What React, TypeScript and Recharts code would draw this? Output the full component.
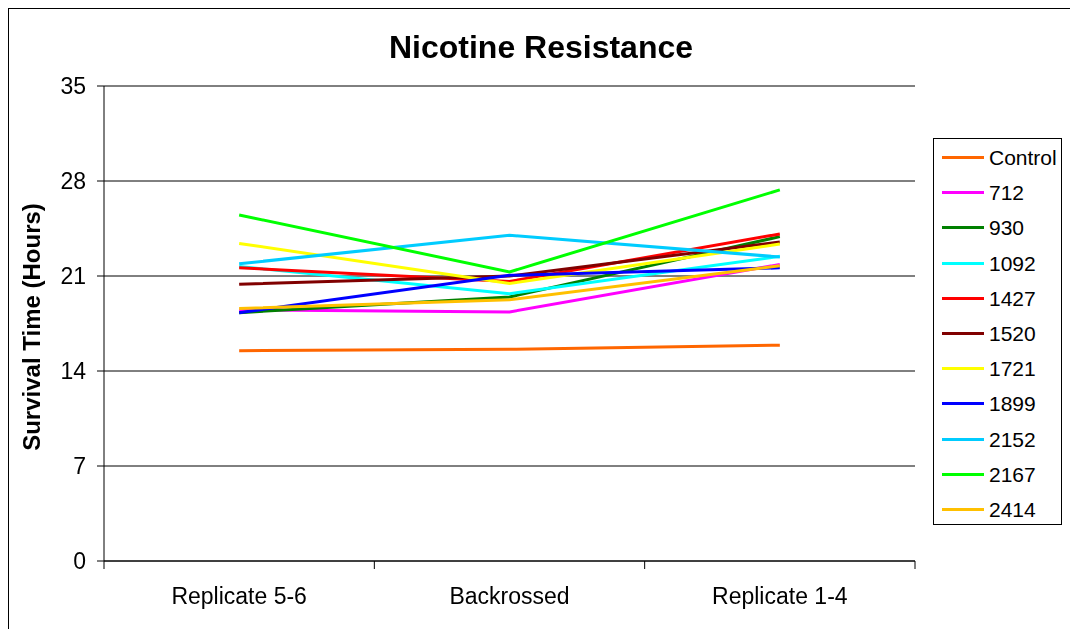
import React from "react";
import {
  LineChart,
  Line,
  XAxis,
  YAxis,
  CartesianGrid,
  Legend,
} from "recharts";

const categories = ["Replicate 5-6", "Backrossed", "Replicate 1-4"];

const control = [15.5, 15.6, 15.9];
const s712 = [18.5, 18.35, 21.85];
const s930 = [18.3, 19.45, 23.9];
const s1092 = [21.7, 19.7, 22.45];
const s1427 = [21.6, 20.6, 24.1];
const s1520 = [20.4, 21.0, 23.5];
const s1721 = [23.4, 20.45, 23.35];
const s1899 = [18.3, 21.05, 21.6];
const s2152 = [21.9, 24.0, 22.4];
const s2167 = [25.5, 21.3, 27.35];
const s2414 = [18.6, 19.25, 21.75];

const yTicks = [0, 7, 14, 21, 28, 35];

const series = [
  { name: "Control", values: control, color: "#FF6600" },
  { name: "712", values: s712, color: "#FF00FF" },
  { name: "930", values: s930, color: "#008000" },
  { name: "1092", values: s1092, color: "#00FFFF" },
  { name: "1427", values: s1427, color: "#FF0000" },
  { name: "1520", values: s1520, color: "#800000" },
  { name: "1721", values: s1721, color: "#FFFF00" },
  { name: "1899", values: s1899, color: "#0000FF" },
  { name: "2152", values: s2152, color: "#00CCFF" },
  { name: "2167", values: s2167, color: "#00FF00" },
  { name: "2414", values: s2414, color: "#FFC000" },
];

const data = categories.map((cat, i) => {
  const row: Record<string, string | number> = { category: cat };
  series.forEach((s) => {
    row[s.name] = s.values[i];
  });
  return row;
});

const FONT = '"Liberation Sans", Arial, sans-serif';
const W = 1054;
const H = 613;
const MARGIN = { top: 78, right: 147, left: 0, bottom: 20 };
const Y_W = 96;
const PLOT_W = W - MARGIN.left - MARGIN.right - Y_W;
const BAND = PLOT_W / categories.length;

function CategoryTick(props: any) {
  const { x, y, payload, index } = props;
  const last = index === categories.length - 1;
  return (
    <g>
      <line x1={x - BAND / 2} x2={x - BAND / 2} y1={y} y2={y + 8} stroke="#000" />
      {last && (
        <line x1={x + BAND / 2} x2={x + BAND / 2} y1={y} y2={y + 8} stroke="#000" />
      )}
      <text x={x} y={y + 43} textAnchor="middle" fontSize={23} fill="#000" fontFamily={FONT}>
        {payload.value}
      </text>
    </g>
  );
}

// keep the legend in series order (recharts sorts by name otherwise)
function LegendBox(props: any) {
  const items = [...(props.payload || [])].sort(
    (a: any, b: any) =>
      series.findIndex((s) => s.name === a.value) - series.findIndex((s) => s.name === b.value)
  );
  return (
    <div
      style={{
        border: "1px solid #000",
        width: 129,
        height: 387,
        boxSizing: "border-box",
        paddingTop: 1,
        paddingLeft: 8,
        background: "#fff",
        fontFamily: FONT,
      }}
    >
      {items.map((it: any) => (
        <div key={it.value} style={{ display: "flex", alignItems: "center", height: 35.2 }}>
          <span style={{ display: "inline-block", width: 42, height: 3, background: it.color }} />
          <span style={{ marginLeft: 5, fontSize: 21, color: "#000", lineHeight: 1 }}>{it.value}</span>
        </div>
      ))}
    </div>
  );
}

export default function App() {
  return (
    <div style={{ position: "relative", width: W, height: H, fontFamily: FONT }}>
      <div
        style={{
          position: "fixed",
          left: 8,
          top: 8,
          right: 0,
          bottom: 0,
          borderLeft: "1px solid #000",
          borderTop: "1px solid #000",
        }}
      />
      <div
        style={{
          position: "absolute",
          left: 0,
          top: 23,
          width: 1066,
          textAlign: "center",
          fontSize: 32,
          lineHeight: "32px",
          fontWeight: "bold",
          color: "#000",
        }}
      >
        Nicotine Resistance
      </div>
      <div
        style={{
          position: "absolute",
          left: 24,
          top: 319,
          transform: "translate(-50%, -50%) rotate(-90deg)",
          whiteSpace: "nowrap",
          fontSize: 24,
          lineHeight: 1,
          fontWeight: "bold",
          color: "#000",
        }}
      >
        Survival Time (Hours)
      </div>
      <LineChart width={W} height={H} data={data} margin={MARGIN} style={{ position: "absolute", left: 0, top: 0 }}>
        <CartesianGrid horizontal vertical={false} stroke="#000" strokeWidth={1} />
        <XAxis
          dataKey="category"
          padding={{ left: BAND / 2, right: BAND / 2 }}
          axisLine={{ stroke: "#000" }}
          tickLine={false}
          tickSize={0}
          tickMargin={0}
          height={40}
          interval={0}
          tick={<CategoryTick />}
        />
        <YAxis
          width={Y_W}
          domain={[0, 35]}
          ticks={yTicks}
          interval={0}
          axisLine={{ stroke: "#000" }}
          tickLine={{ stroke: "#000" }}
          tickSize={7}
          tickMargin={11}
          tick={{ fill: "#000", fontSize: 23, fontFamily: FONT }}
        />
        <YAxis
          yAxisId="frame"
          orientation="right"
          width={0}
          domain={[0, 35]}
          tick={false}
          tickLine={false}
          axisLine={{ stroke: "#000" }}
        />
        <Legend
          layout="vertical"
          align="center"
          verticalAlign="middle"
          content={<LegendBox />}
          wrapperStyle={{ left: 925, top: 130, width: 129, height: 387 }}
        />
        {series.map((s) => (
          <Line
            key={s.name}
            type="linear"
            dataKey={s.name}
            stroke={s.color}
            strokeWidth={3}
            dot={false}
            activeDot={false}
            isAnimationActive={false}
          />
        ))}
      </LineChart>
    </div>
  );
}
